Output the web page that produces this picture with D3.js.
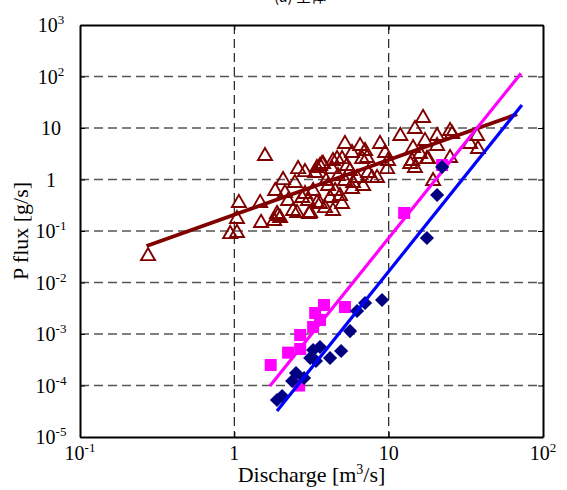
<!DOCTYPE html>
<html>
<head>
<meta charset="utf-8">
<script src="https://cdn.jsdelivr.net/npm/d3@7"></script>
<style>
  body { margin: 0; background: #fff; }
  text { font-family: "Liberation Serif", "DejaVu Serif", serif; fill: #000; }
</style>
</head>
<body>
<svg></svg>
<script>
// triangles (open, dark red)
var triQ = [0.276, 1.58, 0.94, 1.04, 1.07, 1.04, 1.49, 1.47, 2.07, 1.84, 1.92, 2.55, 3.05, 2.59, 2.87, 3.43, 3.70, 4.36, 5.21, 1.89,
            1.98, 2.13, 2.40, 2.75, 3.10, 3.34, 3.59, 3.59, 3.87, 4.17, 4.30, 4.63, 4.99, 4.84, 4.99, 5.21, 5.79, 5.88, 6.53, 7.03,
            6.73, 7.24, 7.35, 6.83, 5.79, 7.80, 8.79, 9.48, 9.91, 9.77, 8.41, 11.9, 14.8, 14.4, 13.8, 14.8, 5.37, 6.24, 4.05, 3.24,
            4.50, 2.87, 2.23, 3.43, 4.36, 16.7, 20.6, 25.0, 25.8, 17.2, 16.0, 14.2, 17.7, 20.6, 25.0, 33.7, 37.4, 37.9, 19.4, 18.0,
            3.76, 1.81, 3.00, 3.93, 5.62, 4.70, 2.47];
var triP = [0.034, 2.99, 0.091, 0.096, 0.366, 0.179, 0.150, 0.366, 1.02, 0.625, 0.205, 0.234, 0.224, 1.67, 1.46, 1.75, 2.09, 2.39, 5.12, 0.224,
            0.187, 0.571, 0.256, 0.457, 0.234, 1.40, 1.91, 0.350, 0.292, 0.457, 1.67, 2.61, 2.61, 0.500, 0.350, 0.977, 3.42, 0.894, 4.68, 3.74,
            2.61, 2.74, 1.40, 0.782, 0.684, 1.12, 5.12, 3.42, 2.39, 1.67, 1.12, 7.31, 10.0, 4.27, 2.09, 1.75, 1.91, 1.12, 0.782, 0.625,
            0.625, 0.547, 0.400, 0.366, 0.256, 16.4, 7.31, 9.14, 8.00, 5.86, 3.27, 2.39, 2.61, 4.68, 2.74, 5.12, 7.31, 4.09, 0.977, 2.61,
            2.09, 0.164, 0.400, 0.977, 1.53, 1.22, 0.894];

// squares (magenta)
var sqQ = [1.72, 2.23, 2.67, 2.67, 3.24, 3.34, 3.81, 5.21, 3.59, 2.63, 12.6, 22.2];
var sqP = [2.50e-4, 4.34e-4, 5.12e-4, 9.57e-4, 1.37e-3, 2.56e-3, 3.66e-3, 3.34e-3, 1.87e-3, 1.0e-4, 0.224, 1.91];

// diamonds (navy)
var diaQ = [1.89, 2.04, 2.37, 2.51, 2.83, 3.10, 3.59, 3.38, 4.17, 4.92, 5.62, 6.24, 7.03, 9.06, 22.2, 20.6, 17.7, 3.24];
var diaP = [5.22e-5, 6.25e-5, 1.22e-4, 1.75e-4, 1.40e-4, 3.42e-4, 5.60e-4, 2.99e-4, 3.42e-4, 4.68e-4, 1.14e-3, 2.80e-3, 4.00e-3, 4.57e-3, 1.75, 0.500, 0.073, 4.89e-4];

// fitted lines (end points)
var redLineQ = [0.27, 68];
var redLineP = [0.051, 18.6];
var pinkLineQ = [1.70, 72];
var pinkLineP = [9.8e-5, 115];
var blueLineQ = [1.89, 73];
var blueLineP = [3.2e-5, 28];

var xTicks = [0.1, 1, 10, 100];
var xTickLabels = ["10^-1", "1", "10", "10^2"];
var yTicks = [1e-5, 1e-4, 1e-3, 1e-2, 1e-1, 1, 10, 100, 1000];
var yTickLabels = ["10^-5", "10^-4", "10^-3", "10^-2", "10^-1", "1", "10", "10^2", "10^3"];

var width = 567, height = 490;
var margin = {top: 25, right: 24, bottom: 53, left: 80};

var svg = d3.select("svg")
    .attr("width", width)
    .attr("height", height);

var x = d3.scaleLog().domain([0.1, 100]).range([margin.left, width - margin.right]);
var y = d3.scaleLog().domain([1e-5, 1000]).range([height - margin.bottom, margin.top]);

function addLabel(sel, label) {
    var parts = label.split("^");
    sel.append("tspan").text(parts[0]);
    if (parts.length > 1) {
        sel.append("tspan")
            .attr("dy", -8)
            .style("font-size", "13px")
            .text(parts[1]);
    }
}

// title, cut off by the top edge as in the original
svg.append("text")
    .attr("x", 300)
    .attr("y", 2)
    .attr("text-anchor", "middle")
    .style("font-size", "15px")
    .style("font-family", "'Noto Sans CJK JP', 'Liberation Serif'")
    .text("(a) 全体");

// grid
var grid = svg.append("g");
grid.selectAll(".hgrid")
    .data(yTicks.slice(1, -1))
    .enter()
    .append("line")
    .attr("x1", margin.left)
    .attr("x2", width - margin.right)
    .attr("y1", function(d){ return y(d); })
    .attr("y2", function(d){ return y(d); })
    .attr("stroke", "#555")
    .attr("stroke-width", 1.3)
    .attr("stroke-dasharray", "9,5");

grid.selectAll(".vgrid")
    .data(xTicks.slice(1, -1))
    .enter()
    .append("line")
    .attr("x1", function(d){ return x(d); })
    .attr("x2", function(d){ return x(d); })
    .attr("y1", margin.top)
    .attr("y2", height - margin.bottom)
    .attr("stroke", "#222")
    .attr("stroke-width", 1.2)
    .attr("stroke-dasharray", "9,5");

// axes with inside ticks
var xAxis = d3.axisBottom(x).tickValues(xTicks).tickSize(-5).tickSizeOuter(0).tickFormat("");
var xAxisTop = d3.axisTop(x).tickValues(xTicks).tickSize(-5).tickSizeOuter(0).tickFormat("");
var yAxis = d3.axisLeft(y).tickValues(yTicks).tickSize(-5).tickSizeOuter(0).tickFormat("");
var yAxisRight = d3.axisRight(y).tickValues(yTicks).tickSize(-5).tickSizeOuter(0).tickFormat("");

svg.append("g").attr("transform", "translate(0," + (height - margin.bottom) + ")").call(xAxis);
svg.append("g").attr("transform", "translate(0," + margin.top + ")").call(xAxisTop);
svg.append("g").attr("transform", "translate(" + margin.left + ",0)").call(yAxis);
svg.append("g").attr("transform", "translate(" + (width - margin.right) + ",0)").call(yAxisRight);
svg.selectAll(".domain").attr("stroke", "#000").attr("stroke-width", 2);
svg.selectAll(".tick line").attr("stroke", "#000").attr("stroke-width", 1);

// tick labels
svg.selectAll(".xlab")
    .data(xTicks)
    .enter()
    .append("text")
    .attr("x", function(d){ return x(d); })
    .attr("y", height - margin.bottom + 23)
    .attr("text-anchor", "middle")
    .style("font-size", "20px")
    .each(function(d, i){ addLabel(d3.select(this), xTickLabels[i]); });

svg.selectAll(".ylab")
    .data(yTicks)
    .enter()
    .append("text")
    .attr("x", 51)
    .attr("y", function(d){ return y(d) + 7; })
    .attr("text-anchor", "middle")
    .style("font-size", "20px")
    .each(function(d, i){ addLabel(d3.select(this), yTickLabels[i]); });

// axis titles
var xt = svg.append("text")
    .attr("x", (margin.left + width - margin.right) / 2)
    .attr("y", height - 8)
    .attr("text-anchor", "middle")
    .style("font-size", "22px");
xt.append("tspan").text("Discharge [m");
xt.append("tspan").attr("dy", -8).style("font-size", "14px").text("3");
xt.append("tspan").attr("dy", 8).text("/s]");

svg.append("text")
    .attr("transform", "translate(28," + ((margin.top + height - margin.bottom) / 2) + ") rotate(-90)")
    .attr("text-anchor", "middle")
    .style("font-size", "22px")
    .text("P flux [g/s]");

var plot = svg.append("g");

var line = d3.line()
    .x(function(d){ return x(d[0]); })
    .y(function(d){ return y(d[1]); });

function pairs(qs, ps) {
    return qs.map(function(q, i){ return [q, ps[i]]; });
}

// triangles
var tri = d3.symbol().type(d3.symbolTriangle).size(85);
plot.selectAll(".tri")
    .data(pairs(triQ, triP))
    .enter()
    .append("path")
    .attr("d", tri)
    .attr("transform", function(d){ return "translate(" + x(d[0]) + "," + (y(d[1]) + 1) + ")"; })
    .attr("fill", "none")
    .attr("stroke", "#800000")
    .attr("stroke-width", 1.9);

plot.append("path")
    .datum(pairs(redLineQ, redLineP))
    .attr("d", line)
    .attr("fill", "none")
    .attr("stroke", "#800000")
    .attr("stroke-width", 3.8);

// squares
plot.selectAll(".sq")
    .data(pairs(sqQ, sqP))
    .enter()
    .append("rect")
    .attr("x", function(d){ return x(d[0]) - 6; })
    .attr("y", function(d){ return y(d[1]) - 6; })
    .attr("width", 12)
    .attr("height", 12)
    .attr("fill", "#ff00ff");

plot.append("path")
    .datum(pairs(pinkLineQ, pinkLineP))
    .attr("d", line)
    .attr("fill", "none")
    .attr("stroke", "#ff00ff")
    .attr("stroke-width", 3.2);

// diamonds
plot.selectAll(".dia")
    .data(pairs(diaQ, diaP))
    .enter()
    .append("rect")
    .attr("x", -5)
    .attr("y", -5)
    .attr("width", 10)
    .attr("height", 10)
    .attr("transform", function(d){ return "translate(" + x(d[0]) + "," + y(d[1]) + ") rotate(45)"; })
    .attr("fill", "#000080");

plot.append("path")
    .datum(pairs(blueLineQ, blueLineP))
    .attr("d", line)
    .attr("fill", "none")
    .attr("stroke", "#0000ff")
    .attr("stroke-width", 3.2);
</script>
</body>
</html>
